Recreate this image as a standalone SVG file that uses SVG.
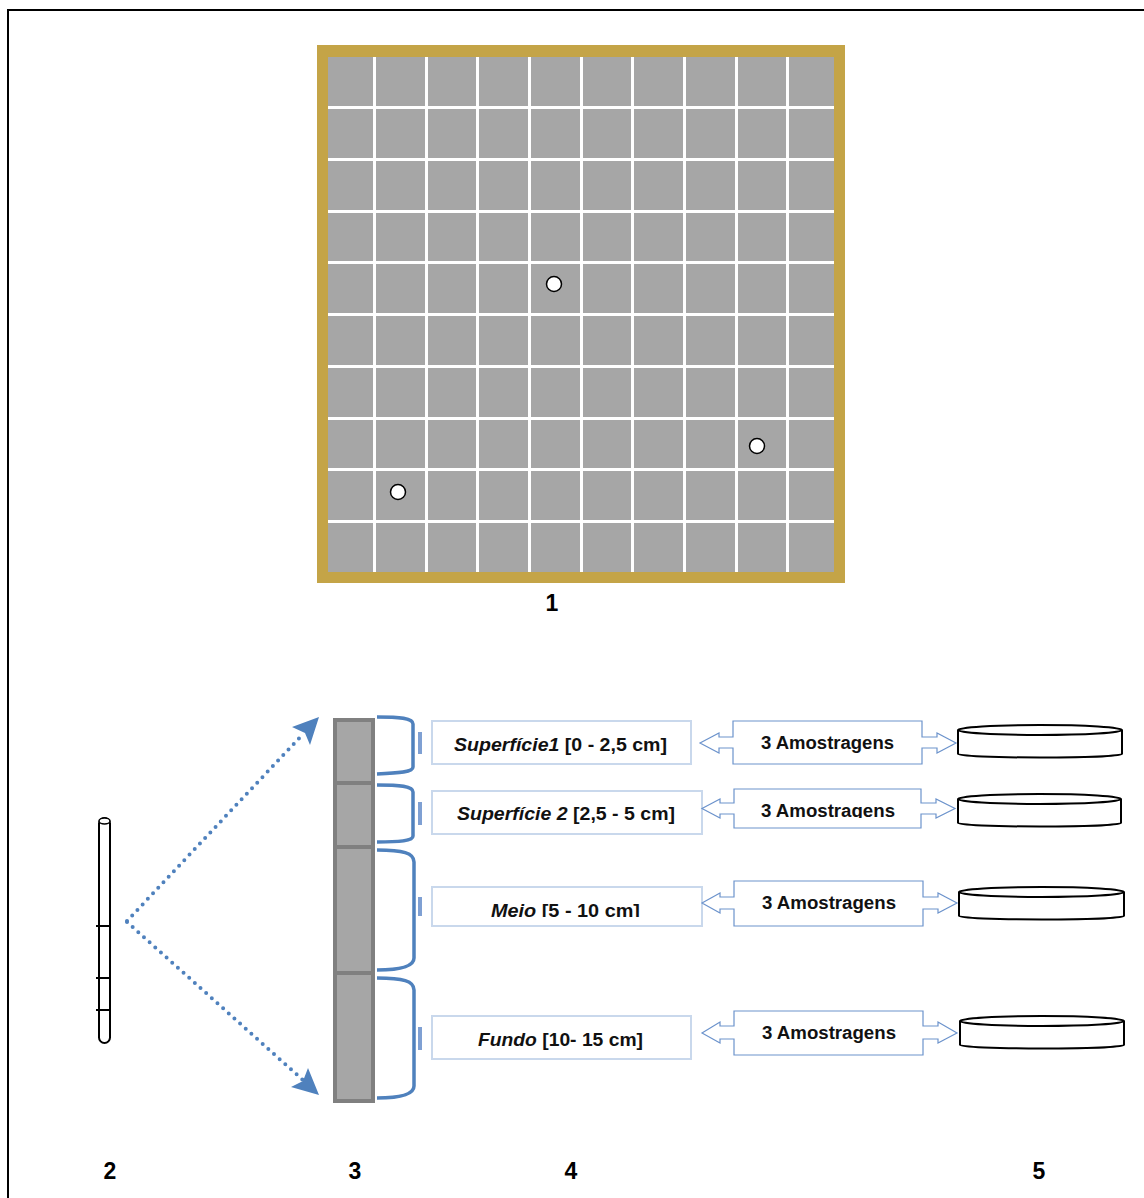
<svg xmlns="http://www.w3.org/2000/svg" width="1144" height="1198" viewBox="0 0 1144 1198">
<style>
.lbl{font-family:"Liberation Sans",Arial,sans-serif;font-weight:bold;font-size:23px;fill:#000}
.bx{fill:#fff;stroke:#C9D8EC;stroke-width:2}
.bt{font-family:"Liberation Sans",Arial,sans-serif;font-weight:bold;font-size:18px;fill:#111}
.it{font-style:italic}
.dbl{fill:#fff;stroke:#6C93CC;stroke-width:1.2}
.disc{fill:#fff;stroke:#000;stroke-width:2}
.brace{fill:none;stroke:#4F81BD;stroke-width:3.5}
.bar{fill:#7FA0D3}
.dot{fill:none;stroke:#4F81BD;stroke-width:4;stroke-linecap:round;stroke-dasharray:0 7.6}
.gl{stroke:#fff;stroke-width:3}
</style>
<defs>
<clipPath id="c3"><rect x="430" y="880" width="280" height="37"/></clipPath>
<clipPath id="c2a"><rect x="730" y="780" width="200" height="38"/></clipPath>
</defs>
<rect width="1144" height="1198" fill="#fff"/>
<path d="M8 1198 V10 H1144" fill="none" stroke="#000" stroke-width="2"/>

<g id="plot">
<rect x="317" y="45" width="528" height="538" fill="#C4A447"/>
<rect x="328" y="57" width="506" height="515" fill="#A6A6A6"/>
<g class="gl">
<line x1="374.5" y1="57" x2="374.5" y2="572"/><line x1="426.5" y1="57" x2="426.5" y2="572"/><line x1="477.5" y1="57" x2="477.5" y2="572"/><line x1="529.5" y1="57" x2="529.5" y2="572"/><line x1="581.5" y1="57" x2="581.5" y2="572"/><line x1="632.5" y1="57" x2="632.5" y2="572"/><line x1="684.5" y1="57" x2="684.5" y2="572"/><line x1="736.5" y1="57" x2="736.5" y2="572"/><line x1="787.5" y1="57" x2="787.5" y2="572"/>
<line x1="328" y1="107.5" x2="834" y2="107.5"/><line x1="328" y1="159.5" x2="834" y2="159.5"/><line x1="328" y1="211.5" x2="834" y2="211.5"/><line x1="328" y1="262.5" x2="834" y2="262.5"/><line x1="328" y1="314.5" x2="834" y2="314.5"/><line x1="328" y1="366.5" x2="834" y2="366.5"/><line x1="328" y1="418.5" x2="834" y2="418.5"/><line x1="328" y1="469.5" x2="834" y2="469.5"/><line x1="328" y1="521.5" x2="834" y2="521.5"/>
</g>
<circle cx="554" cy="284" r="7.5" fill="#fff" stroke="#000" stroke-width="1.5"/>
<circle cx="757" cy="446" r="7.5" fill="#fff" stroke="#000" stroke-width="1.5"/>
<circle cx="398" cy="492" r="7.5" fill="#fff" stroke="#000" stroke-width="1.5"/>
<text class="lbl" x="552" y="611" text-anchor="middle">1</text>
</g>

<g id="core">
<rect x="99" y="818" width="11" height="225" rx="5.5" fill="#fff" stroke="#000" stroke-width="2"/>
<ellipse cx="104.5" cy="821" rx="5.5" ry="3" fill="#fff" stroke="#000" stroke-width="1.5"/>
<path d="M96 926 H110 M96 978 H110 M96 1010 H110" stroke="#000" stroke-width="2"/>
</g>

<g id="connectors">
<line class="dot" x1="127" y1="921" x2="304" y2="733"/>
<line class="dot" x1="127" y1="922" x2="304" y2="1081"/>
<polygon points="319,717 310,745 305,733 292,727" fill="#4F81BD"/>
<polygon points="319,1095 291,1087 303,1081 308,1068" fill="#4F81BD"/>
</g>

<g id="column">
<rect x="335" y="720" width="38" height="381" fill="#A6A6A6" stroke="#808080" stroke-width="4"/>
<path d="M335 783 H373 M335 847 H373 M335 973 H373" stroke="#808080" stroke-width="4"/>
</g>

<g id="braces">
<path class="brace" d="M377 717 C400 717 413 718 413 724 V767 C413 772 400 773 377 774"/>
<path class="brace" d="M377 785 C400 785 413 786 413 792 V836 C413 841 400 842 377 842"/>
<path class="brace" d="M377 850 C403 850 414 853 414 862 V958 C414 966 403 970 377 970"/>
<path class="brace" d="M377 978 C403 978 414 981 414 990 V1086 C414 1094 403 1098 377 1098"/>
<rect class="bar" x="418" y="732" width="4" height="22"/>
<rect class="bar" x="418" y="802" width="4" height="23"/>
<rect class="bar" x="418" y="897" width="4" height="19"/>
<rect class="bar" x="418" y="1027" width="4" height="23"/>
</g>

<g id="layer1">
<rect class="bx" x="432" y="721" width="259" height="43"/>
<text class="bt" x="454" y="751" textLength="213" lengthAdjust="spacingAndGlyphs"><tspan class="it">Superfície1</tspan> [0 - 2,5 cm]</text>
</g>
<g id="layer2">
<rect class="bx" x="432" y="791" width="270" height="43"/>
<text class="bt" x="457" y="820" textLength="218" lengthAdjust="spacingAndGlyphs"><tspan class="it">Superfície 2</tspan> [2,5 - 5 cm]</text>
</g>
<g id="layer3">
<rect class="bx" x="432" y="887" width="270" height="39"/>
<text class="bt" x="491" y="917" textLength="149" lengthAdjust="spacingAndGlyphs" clip-path="url(#c3)"><tspan class="it">Meio</tspan> [5 - 10 cm]</text>
</g>
<g id="layer4">
<rect class="bx" x="432" y="1016" width="259" height="43"/>
<text class="bt" x="478" y="1046" textLength="165" lengthAdjust="spacingAndGlyphs"><tspan class="it">Fundo</tspan> [10- 15 cm]</text>
</g>

<g id="samp1">
<path class="dbl" d="M733 721 H922 V737 H937 V733 L956 743 L937 753 V748 H922 V764 H733 V748 H719 V753 L700 743 L719 733 V737 H733 Z"/>
<text class="bt" x="761" y="749" textLength="133" lengthAdjust="spacingAndGlyphs">3 Amostragens</text>
</g>
<g id="samp2">
<path class="dbl" d="M734 789 H921 V803 H936 V799 L955 808.5 L936 818 V814 H921 V828 H734 V814 H720 V818 L702 808.5 L720 799 V803 H734 Z"/>
<text class="bt" x="761" y="817" textLength="134" lengthAdjust="spacingAndGlyphs" clip-path="url(#c2a)">3 Amostragens</text>
</g>
<g id="samp3">
<path class="dbl" d="M734 881 H923 V897 H938 V893 L957 903 L938 913 V909 H923 V926 H734 V909 H720 V913 L702 903 L720 893 V897 H734 Z"/>
<text class="bt" x="762" y="909" textLength="134" lengthAdjust="spacingAndGlyphs">3 Amostragens</text>
</g>
<g id="samp4">
<path class="dbl" d="M734 1011 H923 V1026 H938 V1022 L957 1033 L938 1043 V1039 H923 V1055 H734 V1039 H720 V1043 L702 1033 L720 1022 V1026 H734 Z"/>
<text class="bt" x="762" y="1039" textLength="134" lengthAdjust="spacingAndGlyphs">3 Amostragens</text>
</g>

<g id="dish1">
<path class="disc" d="M958 730 V754 A82 3.5 0 0 0 1122 754 V730"/>
<ellipse class="disc" cx="1040" cy="730" rx="82" ry="5"/>
</g>
<g id="dish2">
<path class="disc" d="M958 799 V823 A81.5 3.5 0 0 0 1121 823 V799"/>
<ellipse class="disc" cx="1039.5" cy="799" rx="81.5" ry="5"/>
</g>
<g id="dish3">
<path class="disc" d="M959 892 V916 A82.5 3.5 0 0 0 1124 916 V892"/>
<ellipse class="disc" cx="1041.5" cy="892" rx="82.5" ry="5"/>
</g>
<g id="dish4">
<path class="disc" d="M960 1021 V1045 A82 3.5 0 0 0 1124 1045 V1021"/>
<ellipse class="disc" cx="1042" cy="1021" rx="82" ry="5"/>
</g>

<g id="labels">
<text class="lbl" x="110" y="1179" text-anchor="middle">2</text>
<text class="lbl" x="355" y="1179" text-anchor="middle">3</text>
<text class="lbl" x="571" y="1179" text-anchor="middle">4</text>
<text class="lbl" x="1039" y="1179" text-anchor="middle">5</text>
</g>
</svg>
